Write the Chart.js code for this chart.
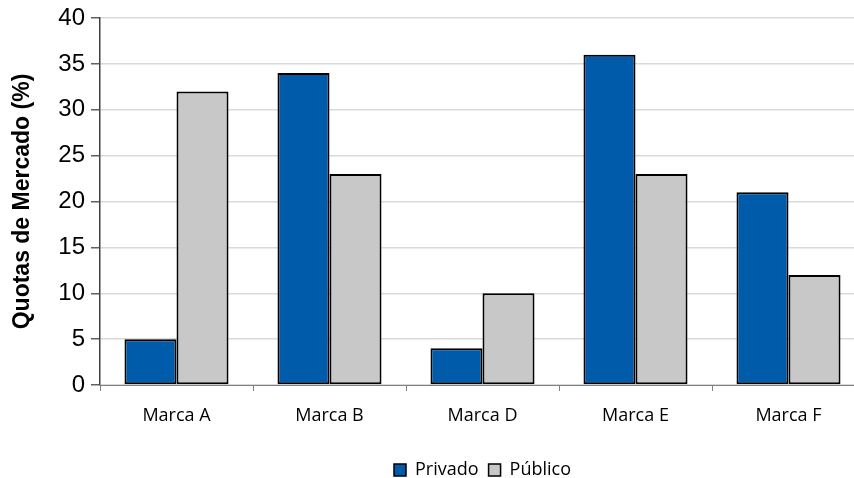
<!DOCTYPE html>
<html>
<head>
<meta charset="utf-8">
<script src="https://cdn.jsdelivr.net/npm/chart.js@4/dist/chart.umd.min.js"></script>
<style>
  html, body { margin: 0; padding: 0; background: #fff; overflow: hidden; }
  #wrap { position: relative; width: 870px; height: 478px; }
</style>
</head>
<body>
<div id="wrap"><canvas id="c" width="870" height="478"></canvas></div>
<script>
// Market share by brand, private vs public sector
const categories = ['Marca A', 'Marca B', 'Marca D', 'Marca E', 'Marca F'];
const privado = [5, 34, 4, 36, 21];
const publico = [32, 23, 10, 23, 12];
const seriesNames = ['Privado', 'Público'];
const yTicks = [0, 5, 10, 15, 20, 25, 30, 35, 40];

const BLUE = '#005BAA';
const GREY = '#C8C8C8';

new Chart(document.getElementById('c'), {
  type: 'bar',
  data: {
    labels: categories,
    datasets: [
      { label: seriesNames[0], data: privado, backgroundColor: BLUE, borderColor: '#000', borderWidth: 2, borderSkipped: false },
      { label: seriesNames[1], data: publico, backgroundColor: GREY, borderColor: '#000', borderWidth: 2, borderSkipped: false }
    ]
  },
  options: {
    responsive: false,
    animation: false,
    devicePixelRatio: 1,
    layout: { padding: { top: 18, right: 5, left: 0, bottom: -11 } },
    datasets: { bar: { categoryPercentage: 0.68, barPercentage: 1.0 } },
    scales: {
      x: {
        offset: true,
        grid: { offset: true, drawOnChartArea: false, drawTicks: true, tickLength: 6, tickColor: '#808080' },
        border: { display: true, color: '#808080', width: 1 },
        ticks: { color: '#000', font: { family: 'Open Sans', size: 18 }, padding: 14 },
        afterFit(scale) { scale.height = 66; }
      },
      y: {
        min: 0, max: 40,
        afterBuildTicks(scale) { scale.ticks = yTicks.map(v => ({ value: v })); },
        grid: { color: '#D9D9D9', lineWidth: 1.5, drawTicks: true, tickLength: 9, tickColor: '#606060' },
        border: { display: true, color: '#404040', width: 1.5 },
        ticks: { color: '#000', font: { family: 'Liberation Sans', size: 24, lineHeight: 1 }, padding: 6 },
        title: { display: true, text: 'Quotas de Mercado (%)', color: '#000', font: { family: 'Liberation Sans', size: 23, weight: 'bold' }, padding: { top: 9, bottom: 4 } },
        afterFit(scale) { scale.width = 100; }
      }
    },
    plugins: {
      tooltip: { enabled: false },
      legend: {
        position: 'bottom',
        align: 'center',
        fullSize: false,
        labels: {
          color: '#000',
          font: { family: 'Open Sans', size: 18 },
          boxWidth: 12, boxHeight: 12,
          padding: 10,
          generateLabels(chart) {
            return chart.data.datasets.map((ds, i) => ({
              text: ds.label,
              fillStyle: ds.backgroundColor,
              strokeStyle: '#000',
              lineWidth: 1.5,
              datasetIndex: i,
              hidden: false
            }));
          }
        }
      }
    }
  }
});
</script>
</body>
</html>
